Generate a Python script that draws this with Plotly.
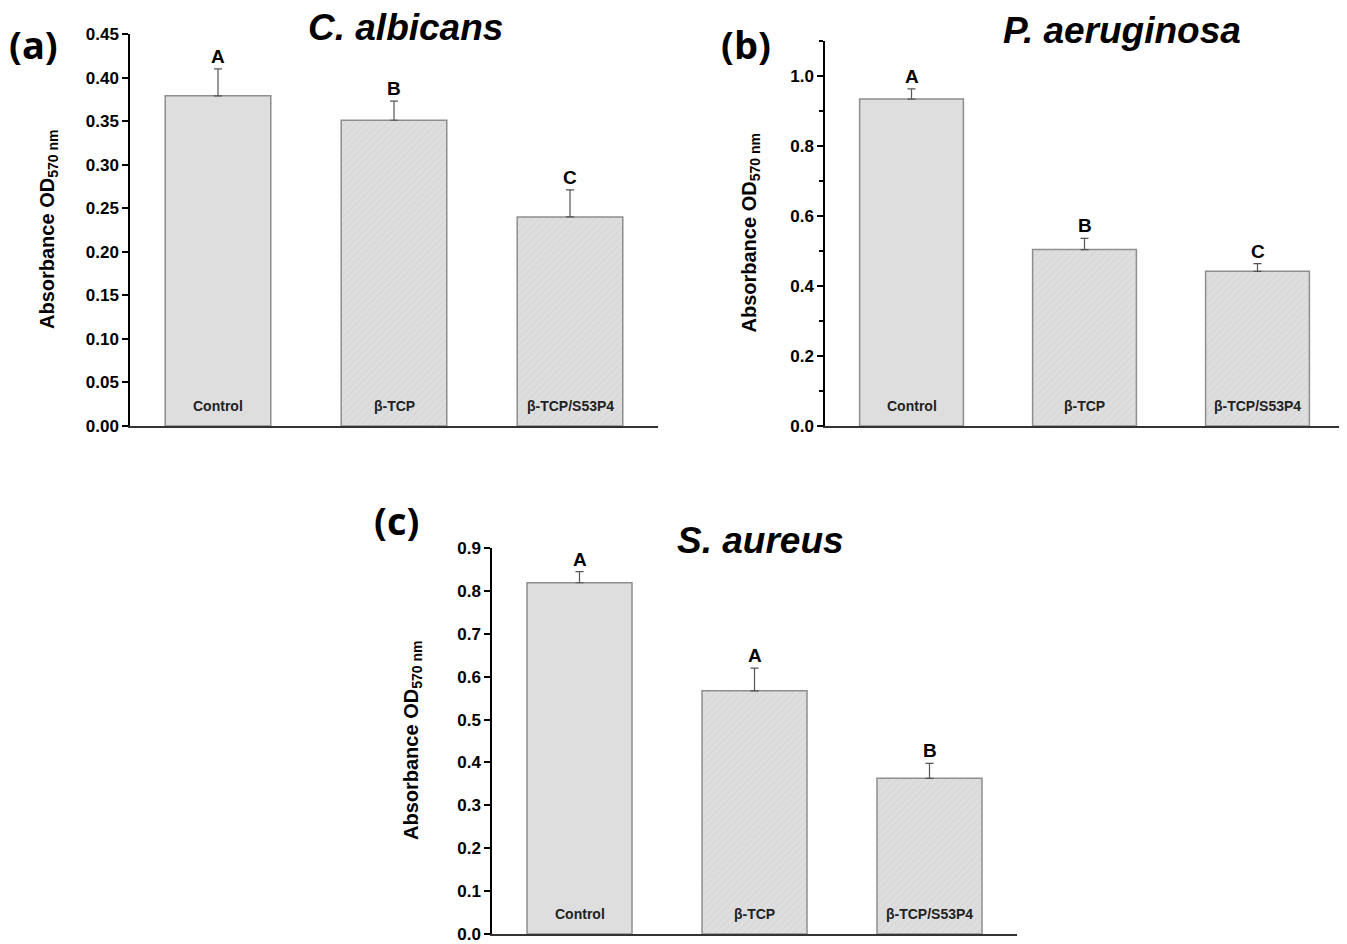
import plotly.graph_objects as go

W, H = 1347, 944
OFF = 8  # page body margin offset

categories = ["Control", "β-TCP", "β-TCP/S53P4"]

# (a) C. albicans
a_vals = [0.379, 0.351, 0.240]
a_err = [0.031, 0.022, 0.031]
a_letters = ["A", "B", "C"]

# (b) P. aeruginosa
b_vals = [0.934, 0.504, 0.442]
b_err = [0.029, 0.032, 0.022]
b_letters = ["A", "B", "C"]

# (c) S. aureus
c_vals = [0.819, 0.567, 0.363]
c_err = [0.026, 0.053, 0.035]
c_letters = ["A", "A", "B"]

panels = [
    dict(vals=a_vals, err=a_err, letters=a_letters, title="C. albicans", tag="(a)",
         px=(130, 658), py=(34, 426), yr=[0, 0.45], dtick=0.05, fmt=".2f", minor=None,
         title_xy=(405, 27), tag_xy=(33, 44), ytitle_x=48),
    dict(vals=b_vals, err=b_err, letters=b_letters, title="P. aeruginosa", tag="(b)",
         px=(825, 1344), py=(41, 426), yr=[0, 1.1], dtick=0.2, fmt=".1f", minor=0.1,
         title_xy=(1122, 30), tag_xy=(746, 44), ytitle_x=750),
    dict(vals=c_vals, err=c_err, letters=c_letters, title="S. aureus", tag="(c)",
         px=(492, 1017), py=(548, 934), yr=[0, 0.9], dtick=0.1, fmt=".1f", minor=None,
         title_xy=(760, 540), tag_xy=(396, 520), ytitle_x=412),
]


def fx(px):
    return (px - OFF) / W


def fy(py):
    return 1 - (py - OFF) / H


fig = go.Figure()
annotations = []
layout_axes = {}

for i, p in enumerate(panels, start=1):
    xa = "x" if i == 1 else f"x{i}"
    ya = "y" if i == 1 else f"y{i}"
    fig.add_trace(go.Bar(
        x=list(range(len(categories))), y=p["vals"],
        xaxis=xa, yaxis=ya, width=0.6,
        marker=dict(color="#dedede", line=dict(color="#8e8e8e", width=1.5),
                    pattern=dict(shape=["", "/", "/"], fgcolor="#c9c9c9", bgcolor="#dedede",
                                 size=5, solidity=0.2)),
        error_y=dict(type="data", symmetric=False, array=p["err"], arrayminus=[0] * 3,
                     color="#555555", thickness=1.2, width=4),
        showlegend=False, hoverinfo="skip",
    ))
    x0, x1 = p["px"]
    ytop, ybot = p["py"]
    xkey = "xaxis" if i == 1 else f"xaxis{i}"
    ykey = "yaxis" if i == 1 else f"yaxis{i}"
    layout_axes[xkey] = dict(
        domain=[fx(x0), fx(x1)], anchor=ya, range=[-0.5, 2.5], automargin=False,
        showticklabels=False, ticks="", showgrid=False, zeroline=False,
        showline=True, linecolor="#333333", linewidth=2,
    )
    ydict = dict(
        domain=[fy(ybot), fy(ytop)], anchor=xa, range=p["yr"], automargin=False,
        dtick=p["dtick"], tick0=0, tickformat=p["fmt"], ticks="outside", ticklen=6,
        tickwidth=1.5, tickcolor="black", showgrid=False, zeroline=False,
        showline=True, linecolor="black", linewidth=1.5,
        tickfont=dict(family="Arial", size=17, color="black", weight="bold"),
    )
    if p["minor"]:
        ydict["minor"] = dict(dtick=p["minor"], tick0=0, ticks="outside", ticklen=4,
                              tickwidth=1.5, tickcolor="black", showgrid=False)
    layout_axes[ykey] = ydict

    # y-axis title
    annotations.append(dict(
        x=fx(p["ytitle_x"]), y=fy((ytop + ybot) / 2), xref="paper", yref="paper",
        text="<b>Absorbance OD<sub>570 nm</sub></b>", textangle=-90, showarrow=False,
        font=dict(family="Arial", size=20, color="black"), xanchor="center", yanchor="middle",
    ))
    # panel title
    annotations.append(dict(
        x=fx(p["title_xy"][0]), y=fy(p["title_xy"][1]), xref="paper", yref="paper",
        text=f"<b><i>{p['title']}</i></b>", showarrow=False,
        font=dict(family="Arial", size=37, color="black"), xanchor="center", yanchor="middle",
    ))
    # panel tag
    annotations.append(dict(
        x=fx(p["tag_xy"][0]), y=fy(p["tag_xy"][1]), xref="paper", yref="paper",
        text=f"<b>{p['tag']}</b>", showarrow=False,
        font=dict(family="Open Sans", size=38, color="black"), xanchor="center", yanchor="middle",
    ))
    for j, cat in enumerate(categories):
        # letters above error bars
        annotations.append(dict(
            x=j, y=p["vals"][j] + p["err"][j], xref=xa, yref=ya, text=f"<b>{p['letters'][j]}</b>",
            showarrow=False, yanchor="bottom", yshift=0,
            font=dict(family="Arial", size=19, color="black"),
        ))
        # category label inside bar
        annotations.append(dict(
            x=j, y=0, xref=xa, yref=ya, text=f"<b>{cat}</b>",
            showarrow=False, yanchor="bottom", yshift=10,
            font=dict(family="Arial", size=14, color="#222222"),
        ))

fig.update_layout(
    width=W, height=H, margin=dict(l=0, r=0, t=0, b=0),
    paper_bgcolor="white", plot_bgcolor="white",
    annotations=annotations, bargap=0.4, **layout_axes,
)

fig.write_html("out.html")
